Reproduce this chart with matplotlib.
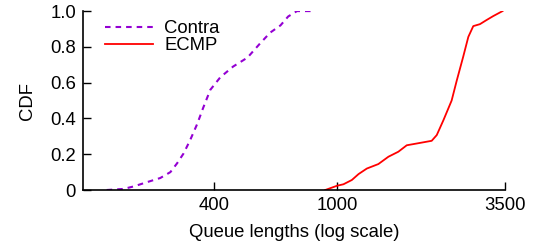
import matplotlib
matplotlib.use("Agg")
import matplotlib.pyplot as plt
from matplotlib.ticker import FixedLocator, NullLocator

plt.rcParams['font.family'] = ['Liberation Sans', 'DejaVu Sans']
plt.rcParams['lines.scale_dashes'] = False

# Contra queue lengths vs CDF
contra_x = [179, 203, 219, 243, 267, 288, 303, 318, 334, 352, 368, 388, 418, 460,
            512, 563, 607, 655, 694, 741, 830]
contra_y = [0.0, 0.006, 0.02, 0.045, 0.067, 0.10, 0.15, 0.205, 0.28, 0.37, 0.46,
            0.56, 0.63, 0.69, 0.74, 0.82, 0.88, 0.92, 0.97, 1.0, 1.0]

# ECMP queue lengths vs CDF
ecmp_x = [915, 1000, 1048, 1116, 1173, 1248, 1360, 1466, 1579, 1681, 1812, 2025,
          2103, 2210, 2350, 2440, 2562, 2662, 2762, 2903, 3050, 3205, 3436]
ecmp_y = [0.0, 0.024, 0.032, 0.056, 0.089, 0.12, 0.145, 0.186, 0.214, 0.25, 0.26,
          0.275, 0.307, 0.39, 0.50, 0.61, 0.745, 0.856, 0.916, 0.927, 0.95, 0.972, 1.0]

xticks = [400, 1000, 3500]
yticks = [0, 0.2, 0.4, 0.6, 0.8, 1.0]
ytick_labels = ['0', '0.2', '0.4', '0.6', '0.8', '1.0']

fs = 13.3

fig = plt.figure(figsize=(5.34, 2.52), dpi=100)
ax = fig.add_axes([0.1554, 0.246, 0.7903, 0.71])

ax.plot(contra_x, contra_y, color='#9400d3', lw=1.5, dashes=(4, 3.6), label='Contra')
ax.plot(ecmp_x, ecmp_y, color='#ff0000', lw=1.3, label='ECMP')

ax.set_xscale('log')
ax.set_xlim(150, 3500)
ax.set_ylim(0, 1.0)
ax.xaxis.set_major_locator(FixedLocator(xticks))
ax.xaxis.set_minor_locator(NullLocator())
ax.set_xticklabels([str(t) for t in xticks])
ax.set_yticks(yticks)
ax.set_yticklabels(ytick_labels)

for s in ['top', 'right']:
    ax.spines[s].set_visible(False)
ax.spines['left'].set_linewidth(1.2)
ax.spines['bottom'].set_linewidth(1.2)
ax.tick_params(direction='in', length=6, width=1.0, labelsize=fs, pad=5)

ax.set_xlabel('Queue lengths (log scale)', fontsize=fs, labelpad=7)
ax.set_ylabel('CDF', fontsize=fs, labelpad=10)

ax.legend(loc='upper left', frameon=False, fontsize=fs, handlelength=2.6,
          handletextpad=0.6, labelspacing=0.0, borderaxespad=0.0,
          bbox_to_anchor=(0.035, 0.99))

fig.savefig('out.png', dpi=100)
